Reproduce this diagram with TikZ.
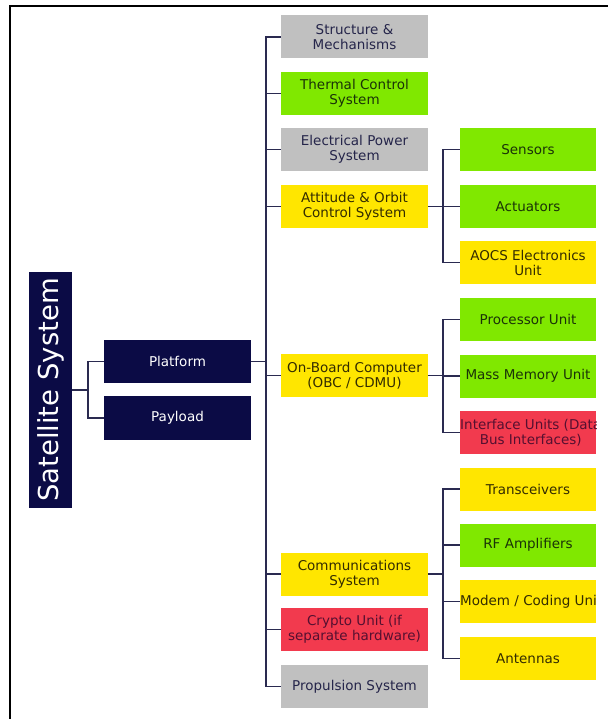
\documentclass[tikz,border=0pt]{standalone}
\usepackage{fontspec}
\setmainfont{DejaVu Sans}
\definecolor{navy}{HTML}{0B0B45}
\definecolor{gbox}{HTML}{C0C0C0}
\definecolor{grbox}{HTML}{80E800}
\definecolor{ybox}{HTML}{FFE600}
\definecolor{rbox}{HTML}{F23A4E}
\definecolor{gtxt}{HTML}{25254A}
\definecolor{grtxt}{HTML}{1A3308}
\definecolor{ytxt}{HTML}{332C00}
\definecolor{rtxt}{HTML}{551030}
\definecolor{wire}{HTML}{2A2A50}
\tikzset{
  base/.style={rectangle, inner sep=0pt, align=center,
    font=\fontsize{13.5}{15}\selectfont},
  lvtwo/.style={base, minimum width=147pt, minimum height=43pt},
  lvthree/.style={base, minimum width=136pt, minimum height=43pt},
  graybox/.style={fill=gbox, text=gtxt},
  greenbox/.style={fill=grbox, text=grtxt},
  yellowbox/.style={fill=ybox, text=ytxt},
  redbox/.style={fill=rbox, text=rtxt},
  navybox/.style={base, fill=navy, text=white},
  link/.style={draw=wire, line width=1.1pt},
  stub/.style={draw=wire, line width=1.8pt},
}
\begin{document}
\begin{tikzpicture}[x=1pt,y=-1pt]
\useasboundingbox (0,0) rectangle (607,719);
\draw[line width=1.3pt, black] (10,6) rectangle (625,735);

% root
\node[navybox, minimum width=43pt, minimum height=236pt] (sat) at (50.5,390)
  {\rotatebox{90}{\fontsize{27.5}{30}\selectfont Satellite System}};
\node[navybox, minimum width=147pt, minimum height=43pt] (platform) at (177.5,361.5) {Platform};
\node[navybox, minimum width=147pt, minimum height=44pt] (payload) at (177.5,418) {Payload};

% level 2
\node[lvtwo, graybox] (s1) at (354.5,37) {Structure \&\\Mechanisms};
\node[lvtwo, greenbox] (s2) at (354.5,93.5) {Thermal Control\\System};
\node[lvtwo, graybox] (s3) at (354.5,149.5) {Electrical Power\\System};
\node[lvtwo, yellowbox] (s4) at (354.5,206.5) {Attitude \& Orbit\\Control System};
\node[lvtwo, yellowbox] (s5) at (354.5,375.5) {On-Board Computer\\(OBC / CDMU)};
\node[lvtwo, yellowbox] (s6) at (354.5,574) {Communications\\System};
\node[lvtwo, redbox] (s7) at (354.5,629.5) {Crypto Unit (if\\separate hardware)};
\node[lvtwo, graybox] (s8) at (354.5,686.5) {Propulsion System};

% level 3
\node[lvthree, greenbox] (a1) at (528,149.5) {Sensors};
\node[lvthree, greenbox] (a2) at (528,206.5) {Actuators};
\node[lvthree, yellowbox] (a3) at (528,262.5) {AOCS Electronics\\Unit};
\node[lvthree, greenbox] (o1) at (528,319.5) {Processor Unit};
\node[lvthree, greenbox] (o2) at (528,376) {Mass Memory Unit};
\node[lvthree, redbox, path picture={
  \node[base, text=rtxt, anchor=west] at (path picture bounding box.west)
    {Interface Units (Data\\Bus Interfaces)};}] (o3) at (528,432.5) {};
\node[lvthree, yellowbox] (c1) at (528,489) {Transceivers};
\node[lvthree, greenbox] (c2) at (528,545) {RF Amplifiers};
\node[lvthree, yellowbox, path picture={
  \node[base, text=ytxt, anchor=west] at (path picture bounding box.west)
    {Modem / Coding Unit};}] (c3) at (528,601.5) {};
\node[lvthree, yellowbox] (c4) at (528,658.5) {Antennas};

% connectors root
\coordinate (j0) at (88,390);
\draw[stub] (sat.east) -- (j0);
\draw[link] (platform.west) -- (platform.west -| j0) -- (payload.west -| j0) -- (payload.west);

% trunk
\coordinate (tr) at (266,0);
\draw[stub] (platform.east) -- (platform.east -| tr);
\draw[link] (s1.west) -- (s1.west -| tr) -- (s8.west -| tr) -- (s8.west);
\foreach \n in {s2,s3,s4,s5,s6,s7} \draw[link] (\n.west) -- (\n.west -| tr);

% level 3 connectors
\coordinate (br) at (443,0);
\draw[stub] (s4.east) -- (s4.east -| br);
\draw[link] (a1.west) -- (a1.west -| br) -- (a3.west -| br) -- (a3.west);
\draw[link] (s4.east -| br) -- (a2.west);
\draw[stub] (s5.east) -- (s5.east -| br);
\draw[link] (o1.west) -- (o1.west -| br) -- (o3.west -| br) -- (o3.west);
\draw[link] (o2.west -| br) -- (o2.west);
\draw[stub] (s6.east) -- (s6.east -| br);
\draw[link] (c1.west) -- (c1.west -| br) -- (c4.west -| br) -- (c4.west);
\draw[link] (c2.west -| br) -- (c2.west);
\draw[link] (c3.west -| br) -- (c3.west);
\end{tikzpicture}
\end{document}
